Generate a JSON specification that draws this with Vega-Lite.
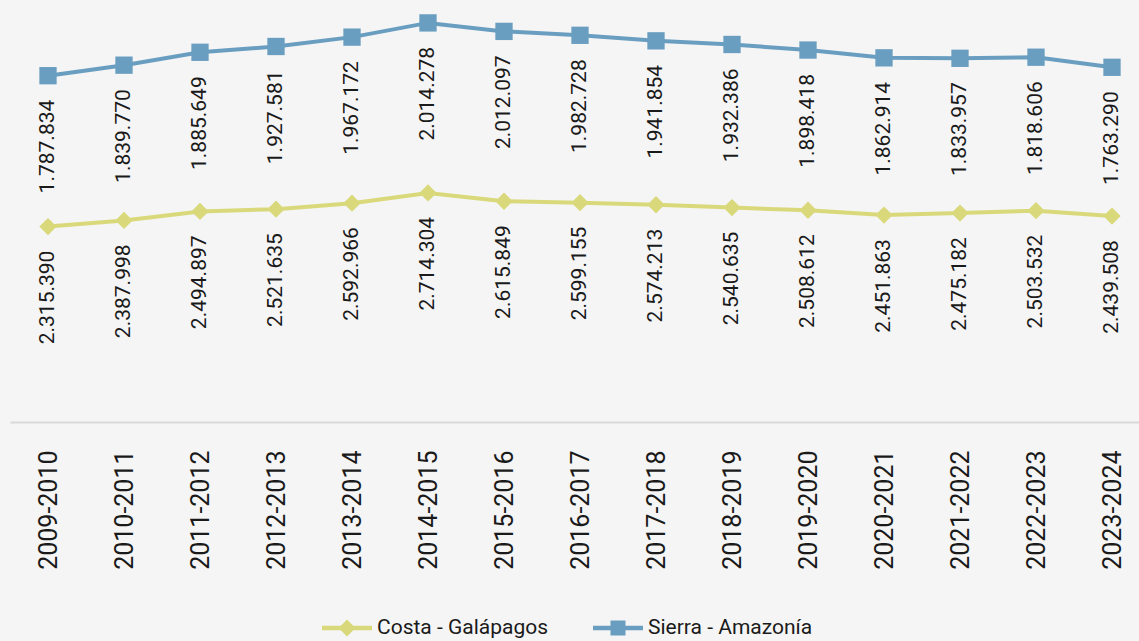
{
  "$schema": "https://vega.github.io/schema/vega-lite/v6.json",
  "width": 1140,
  "height": 422,
  "autosize": "none",
  "padding": {"left": 10, "top": 0, "right": 0, "bottom": 219},
  "background": "#f5f5f5",
  "config": {
    "view": {"stroke": null},
    "font": "Roboto",
    "locale": {"number": {"decimal": ",", "thousands": ".", "grouping": [3], "currency": ["$", ""]}}
  },
  "data": {
    "values": [
      {"period": "2009-2010", "series": "Costa - Galápagos", "value": 2315390},
      {"period": "2010-2011", "series": "Costa - Galápagos", "value": 2387998},
      {"period": "2011-2012", "series": "Costa - Galápagos", "value": 2494897},
      {"period": "2012-2013", "series": "Costa - Galápagos", "value": 2521635},
      {"period": "2013-2014", "series": "Costa - Galápagos", "value": 2592966},
      {"period": "2014-2015", "series": "Costa - Galápagos", "value": 2714304},
      {"period": "2015-2016", "series": "Costa - Galápagos", "value": 2615849},
      {"period": "2016-2017", "series": "Costa - Galápagos", "value": 2599155},
      {"period": "2017-2018", "series": "Costa - Galápagos", "value": 2574213},
      {"period": "2018-2019", "series": "Costa - Galápagos", "value": 2540635},
      {"period": "2019-2020", "series": "Costa - Galápagos", "value": 2508612},
      {"period": "2020-2021", "series": "Costa - Galápagos", "value": 2451863},
      {"period": "2021-2022", "series": "Costa - Galápagos", "value": 2475182},
      {"period": "2022-2023", "series": "Costa - Galápagos", "value": 2503532},
      {"period": "2023-2024", "series": "Costa - Galápagos", "value": 2439508},
      {"period": "2009-2010", "series": "Sierra - Amazonía", "value": 1787834},
      {"period": "2010-2011", "series": "Sierra - Amazonía", "value": 1839770},
      {"period": "2011-2012", "series": "Sierra - Amazonía", "value": 1885649},
      {"period": "2012-2013", "series": "Sierra - Amazonía", "value": 1927581},
      {"period": "2013-2014", "series": "Sierra - Amazonía", "value": 1967172},
      {"period": "2014-2015", "series": "Sierra - Amazonía", "value": 2014278},
      {"period": "2015-2016", "series": "Sierra - Amazonía", "value": 2012097},
      {"period": "2016-2017", "series": "Sierra - Amazonía", "value": 1982728},
      {"period": "2017-2018", "series": "Sierra - Amazonía", "value": 1941854},
      {"period": "2018-2019", "series": "Sierra - Amazonía", "value": 1932386},
      {"period": "2019-2020", "series": "Sierra - Amazonía", "value": 1898418},
      {"period": "2020-2021", "series": "Sierra - Amazonía", "value": 1862914},
      {"period": "2021-2022", "series": "Sierra - Amazonía", "value": 1833957},
      {"period": "2022-2023", "series": "Sierra - Amazonía", "value": 1818606},
      {"period": "2023-2024", "series": "Sierra - Amazonía", "value": 1763290}
    ]
  },
  "transform": [
    {"stack": "value", "groupby": ["period"], "sort": [{"field": "series", "order": "ascending"}], "as": ["stack_start", "stack_end"]}
  ],
  "encoding": {
    "x": {
      "field": "period",
      "type": "ordinal",
      "sort": null,
      "scale": {"type": "point", "padding": 0.5},
      "axis": {
        "title": null,
        "domain": true,
        "domainColor": "#d9d9d9",
        "domainWidth": 2,
        "ticks": false,
        "tickSize": 0,
        "labelAngle": 270,
        "labelAlign": "right",
        "labelBaseline": "middle",
        "labelPadding": 28,
        "labelFont": "Roboto",
        "labelFontSize": 25,
        "labelColor": "#1a1a1a",
        "labelOverlap": false,
        "labelBound": false,
        "grid": false
      }
    },
    "y": {
      "field": "stack_end",
      "type": "quantitative",
      "stack": null,
      "scale": {"domain": [0, 5000000], "nice": false, "zero": true},
      "axis": null
    }
  },
  "layer": [
    {
      "mark": {"type": "line", "strokeWidth": 4},
      "encoding": {
        "color": {
          "field": "series",
          "type": "nominal",
          "scale": {"domain": ["Costa - Galápagos", "Sierra - Amazonía"], "range": ["#d9d97b", "#6a9ec1"]},
          "legend": {
            "title": null,
            "orient": "none",
            "direction": "horizontal",
            "legendX": 312,
            "legendY": 603,
            "padding": 0,
            "symbolSize": 2500,
            "labelOffset": 5,
            "labelLimit": 0,
            "columnPadding": 44,
            "labelFont": "Roboto",
            "labelFontSize": 21,
            "labelColor": "#1a1a1a",
            "encode": {
              "symbols": {
                "update": {
                  "shape": {"signal": "datum.value === 'Costa - Galápagos' ? 'M-1,-0.09L1,-0.09L1,0.09L-1,0.09Z M0,-0.34L0.34,0L0,0.34L-0.34,0Z' : 'M-1,-0.09L1,-0.09L1,0.09L-1,0.09Z M-0.3,-0.3L0.3,-0.3L0.3,0.3L-0.3,0.3Z'"},
                  "fill": {"signal": "datum.value === 'Costa - Galápagos' ? '#d9d97b' : '#6a9ec1'"},
                  "stroke": {"value": "transparent"},
                  "strokeWidth": {"value": 0},
                  "opacity": {"value": 1},
                  "fillOpacity": {"value": 1},
                  "size": {"value": 2500}
                }
              }
            }
          }
        }
      }
    },
    {
      "transform": [{"filter": "datum.series === 'Costa - Galápagos'"}],
      "mark": {"type": "point", "filled": true, "opacity": 1, "size": 300, "shape": "diamond", "color": "#d9d97b"}
    },
    {
      "transform": [{"filter": "datum.series === 'Sierra - Amazonía'"}],
      "mark": {"type": "point", "filled": true, "opacity": 1, "size": 300, "shape": "square", "color": "#6a9ec1"}
    },
    {
      "mark": {"type": "text", "angle": 270, "align": "right", "baseline": "middle", "dx": -24, "font": "Roboto", "fontSize": 21, "color": "#1a1a1a"},
      "encoding": {
        "text": {"field": "value", "type": "quantitative", "format": ",d"}
      }
    }
  ]
}
